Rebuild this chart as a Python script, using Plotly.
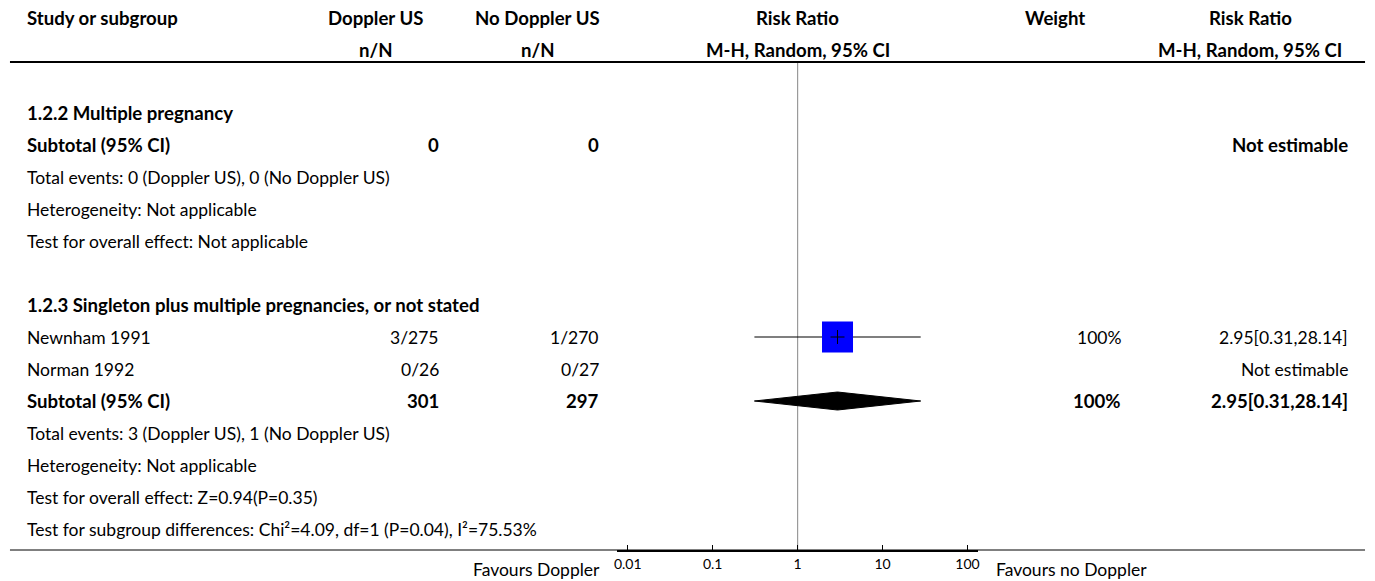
import plotly.graph_objects as go

W, H = 1375, 581

# ---------------- data ----------------
row_labels = [
    "1.2.2 Multiple pregnancy",
    "Subtotal (95% CI)",
    "Total events: 0 (Doppler US), 0 (No Doppler US)",
    "Heterogeneity: Not applicable",
    "Test for overall effect: Not applicable",
    "",
    "1.2.3 Singleton plus multiple pregnancies, or not stated",
    "Newnham 1991",
    "Norman 1992",
    "Subtotal (95% CI)",
    "Total events: 3 (Doppler US), 1 (No Doppler US)",
    "Heterogeneity: Not applicable",
    "Test for overall effect: Z=0.94(P=0.35)",
    "Test for subgroup differences: Chi²=4.09, df=1 (P=0.04), I²=75.53%",
]
row_bold = [1, 1, 0, 0, 0, 0, 1, 0, 0, 1, 0, 0, 0, 0]
doppler_nN = ["", "0", "", "", "", "", "", "3/275", "0/26", "301", "", "", "", ""]
no_doppler_nN = ["", "0", "", "", "", "", "", "1/270", "0/27", "297", "", "", "", ""]
weights = ["", "", "", "", "", "", "", "100%", "", "100%", "", "", "", ""]
rr_text = ["", "Not estimable", "", "", "", "", "", "2.95[0.31,28.14]",
           "Not estimable", "2.95[0.31,28.14]", "", "", "", ""]

study_rows = [7]
study_rr = [2.95]
study_lo = [0.31]
study_hi = [28.14]

pooled_rows = [9]
pooled_rr = [2.95]
pooled_lo = [0.31]
pooled_hi = [28.14]

axis_ticks = [0.01, 0.1, 1, 10, 100]
axis_ticklabels = ["0.01", "0.1", "1", "10", "100"]

header1 = ["Study or subgroup", "Doppler US", "No Doppler US", "Risk Ratio", "Weight", "Risk Ratio"]
header2 = ["", "n/N", "n/N", "M-H, Random, 95% CI", "", "M-H, Random, 95% CI"]
favours_left = "Favours Doppler"
favours_right = "Favours no Doppler"

# ---------------- layout helpers ----------------
FONT = "Lato"
FS = 17.5
FS_BOLD = 18.6
ROW0_PX, ROW_H = 113, 32
AXIS_PX = 550


def row_of(px):
    return (px - ROW0_PX) / ROW_H


def px_x(px):
    return px / W


# header positions (centred in column boxes) and value positions
hdr_x = [22, 374, 536, 797.5, 1056, 1252]
hdr_anchor = ["left", "center", "center", "center", "center", "center"]
val_x = [22, 440, 600, 797.5, 1124, 1352]

fig = go.Figure()

# CI lines
for r, lo, hi in zip(study_rows, study_lo, study_hi):
    fig.add_trace(go.Scatter(x=[lo, hi], y=[r, r], mode="lines",
                             line=dict(color="black", width=1.2),
                             hoverinfo="skip", showlegend=False))
# squares
fig.add_trace(go.Scatter(x=study_rr, y=study_rows, mode="markers",
                         marker=dict(symbol="square", size=31, color="#0000ff",
                                     line=dict(width=0)),
                         hoverinfo="skip", showlegend=False))
fig.add_trace(go.Scatter(x=study_rr, y=study_rows, mode="markers",
                         marker=dict(symbol="cross-thin", size=10,
                                     line=dict(color="black", width=1)),
                         hoverinfo="skip", showlegend=False))
# diamonds
half = 9 / ROW_H
for r, est, lo, hi in zip(pooled_rows, pooled_rr, pooled_lo, pooled_hi):
    fig.add_trace(go.Scatter(x=[lo, est, hi, est, lo], y=[r, r - half, r, r + half, r],
                             mode="lines", fill="toself", fillcolor="black",
                             line=dict(color="black", width=1),
                             hoverinfo="skip", showlegend=False))

ann = []


def add_text(txt, xpx, anchor, yrow, bold=False):
    if not txt:
        return
    ann.append(dict(text=("<b>%s</b>" % txt) if bold else txt,
                    x=px_x(xpx), xref="paper", y=yrow, yref="y",
                    xanchor=anchor, yanchor="middle", showarrow=False,
                    font=dict(family=FONT, size=FS_BOLD if bold else FS, color="black")))


for j in range(len(header1)):
    add_text(header1[j], hdr_x[j], hdr_anchor[j], row_of(18), bold=True)
    add_text(header2[j], hdr_x[j], hdr_anchor[j], row_of(50), bold=True)

for i, lab in enumerate(row_labels):
    b = bool(row_bold[i])
    add_text(lab, val_x[0], "left", i, bold=b)
    add_text(doppler_nN[i], val_x[1], "right", i, bold=b)
    add_text(no_doppler_nN[i], val_x[2], "right", i, bold=b)
    add_text(weights[i], val_x[4], "right", i, bold=b)
    add_text(rr_text[i], val_x[5], "right", i, bold=b)

ann.append(dict(text=favours_left, x=px_x(601), xref="paper", y=(H - 569) / H, yref="paper",
                xanchor="right", yanchor="middle", showarrow=False,
                font=dict(family=FONT, size=FS, color="black")))
ann.append(dict(text=favours_right, x=px_x(995), xref="paper", y=(H - 569) / H, yref="paper",
                xanchor="left", yanchor="middle", showarrow=False,
                font=dict(family=FONT, size=FS, color="black")))

shapes = [
    dict(type="line", xref="paper", yref="y", x0=px_x(7), x1=px_x(1367),
         y0=row_of(62), y1=row_of(62), line=dict(color="black", width=2)),
    dict(type="line", xref="paper", yref="paper", x0=px_x(7), x1=px_x(1367),
         y0=(H - AXIS_PX) / H, y1=(H - AXIS_PX) / H, line=dict(color="black", width=1)),
    dict(type="line", xref="x", yref="y", x0=1, x1=1,
         y0=row_of(62), y1=row_of(AXIS_PX), line=dict(color="#9a9a9a", width=1.2),
         layer="below"),
]

centre, half_w, per_dec = 797.5, 181, 85.25
fig.update_layout(
    width=W, height=H, margin=dict(l=0, r=0, t=0, b=0),
    paper_bgcolor="white", plot_bgcolor="rgba(0,0,0,0)",
    annotations=ann, shapes=shapes, showlegend=False,
    xaxis=dict(type="log", domain=[(centre - half_w) / W, (centre + half_w) / W],
               range=[-half_w / per_dec, half_w / per_dec],
               tickvals=axis_ticks, ticktext=axis_ticklabels,
               ticks="inside", ticklen=5, tickwidth=1, tickcolor="black",
               showline=True, linecolor="black", linewidth=2,
               showgrid=False, zeroline=False, fixedrange=True,
               tickfont=dict(family=FONT, size=14, color="black")),
    yaxis=dict(domain=[(H - AXIS_PX) / H, 1],
               range=[row_of(AXIS_PX), row_of(0)], fixedrange=True,
               visible=False, showgrid=False, zeroline=False),
)

fig.write_html("out.html", config={"displayModeBar": False, "staticPlot": True},
               post_script="document.body.style.margin='0';document.body.style.overflow='hidden';")
